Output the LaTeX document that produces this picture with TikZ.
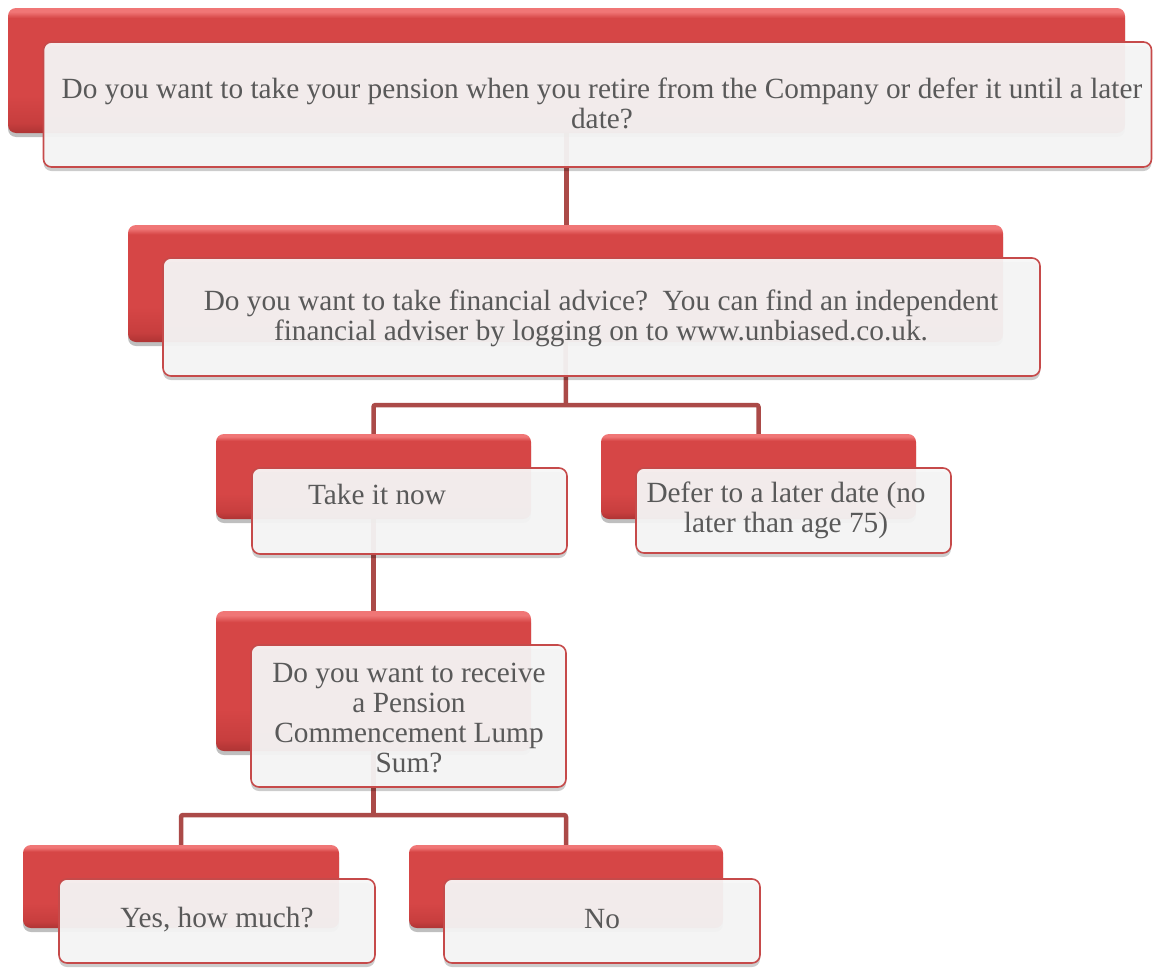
\documentclass[tikz,border=0pt]{standalone}
\usepackage{fontspec}
\setmainfont{Liberation Serif}
\usetikzlibrary{shadows,backgrounds}
\definecolor{redtop}{HTML}{F07676}
\definecolor{redmid}{HTML}{D64646}
\definecolor{reddk}{HTML}{C73E3E}
\definecolor{redbot}{HTML}{AE3434}
\definecolor{rim}{HTML}{C64A4A}
\definecolor{conncol}{HTML}{AB4A48}
\definecolor{txtcol}{HTML}{595959}
\definecolor{wfill}{HTML}{F7F7F7}
\pgfdeclareverticalshading{redsh}{100bp}{color(0bp)=(redbot); color(25bp)=(redbot); color(29bp)=(reddk); color(40bp)=(redmid); color(71bp)=(redmid); color(73.5bp)=(redtop); color(75bp)=(redtop); color(100bp)=(redtop)}
\tikzset{
  redbox/.style={rectangle, rounded corners=8pt, shading=redsh,
    drop shadow={shadow xshift=0pt, shadow yshift=-4pt, opacity=0.25, fill=black},
    inner sep=0pt, outer sep=0pt},
  whitebox/.style={rectangle, rounded corners=8pt, draw=rim, line width=1.6pt,
    fill=wfill, fill opacity=0.94, text opacity=1,
    drop shadow={shadow xshift=0pt, shadow yshift=-4pt, opacity=0.2, fill=black},
    inner sep=0pt, outer sep=0pt},
  txt/.style={text=txtcol, font=\fontsize{29.3}{30}\selectfont, align=center, inner sep=0pt},
  conn/.style={draw=conncol, line width=4.5pt, rounded corners=2pt}
}
\begin{document}
\begin{tikzpicture}[x=1pt,y=-1pt]
\useasboundingbox (0,0) rectangle (1153,969);
\node[redbox, minimum width=1117pt, minimum height=125pt] (r1) at (566.5,70.5) {};
\node[whitebox, minimum width=1108pt, minimum height=125pt] (w1) at (597.5,104.5) {};
\node[txt] (t1) at (602,103) {Do you want to take your pension when you retire from the Company or defer it until a later\\date?};

\node[redbox, minimum width=875pt, minimum height=117pt] (r2) at (565.5,283.5) {};
\node[whitebox, minimum width=877pt, minimum height=118pt] (w2) at (601.5,317) {};
\node[txt] (t2) at (601,318) {Do you want to take financial advice?\ \ You can find an independent\\financial adviser by logging on to www.unbiased.co.uk.};

\node[redbox, minimum width=315pt, minimum height=85pt] (r3) at (373.5,476.5) {};
\node[whitebox, minimum width=315pt, minimum height=86pt] (w3) at (409.5,511) {};
\node[txt] (t3) at (377,494) {Take it now};

\node[redbox, minimum width=315pt, minimum height=85pt] (r4) at (758.5,476.5) {};
\node[whitebox, minimum width=315pt, minimum height=85pt] (w4) at (793.5,510.5) {};
\node[txt] (t4) at (786,510.5) {Defer to a later date (no\\later than age 75)};

\node[redbox, minimum width=315pt, minimum height=140pt] (r5) at (373.5,681) {};
\node[whitebox, minimum width=315pt, minimum height=142pt] (w5) at (408.5,716) {};
\node[txt] (t5) at (409,718) {Do you want to receive\\a Pension\\Commencement Lump\\Sum?};

\node[redbox, minimum width=316pt, minimum height=83pt] (r6) at (181,886.5) {};
\node[whitebox, minimum width=316pt, minimum height=84pt] (w6) at (217,921) {};
\node[txt] (t6) at (217,920) {Yes, how much?};

\node[redbox, minimum width=314pt, minimum height=83pt] (r7) at (566,886.5) {};
\node[whitebox, minimum width=316pt, minimum height=84pt] (w7) at (602,921) {};
\node[txt] (t7) at (602,919) {No};

\coordinate (j1) at (566,405);
\coordinate (j2) at (373.5,815);
\begin{pgfonlayer}{background}
\draw[conn] (r1.south) -- (r1.south |- r2.north);
\draw[conn] (r2.south) -- (j1);
\draw[conn] (r3.north) |- (j1) -| (r4.north);
\draw[conn] (r3.south) -- (r5.north);
\draw[conn] (r5.south) -- (j2);
\draw[conn] (r6.north) |- (j2) -| (r7.north);
\end{pgfonlayer}
\end{tikzpicture}
\end{document}
